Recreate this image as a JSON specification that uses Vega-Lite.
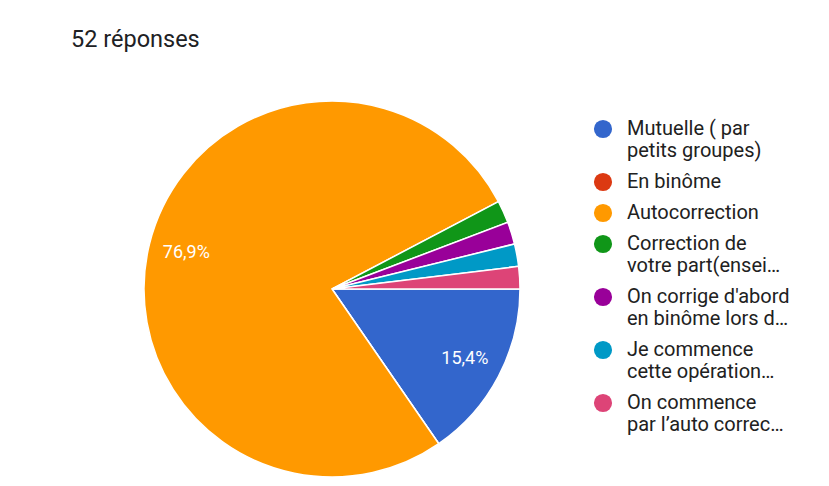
{
  "$schema": "https://vega.github.io/schema/vega-lite/v6.json",
  "width": 664,
  "height": 376,
  "autosize": {"type": "none"},
  "padding": {"left": 0, "top": 101, "right": 165, "bottom": 9},
  "background": "white",
  "title": {
    "text": "52 réponses",
    "anchor": "start",
    "dx": 71,
    "offset": 47,
    "font": "Roboto",
    "fontSize": 23.5,
    "fontWeight": "normal",
    "color": "#202124"
  },
  "config": {"view": {"stroke": null}},
  "data": {
    "values": [
      {"reponse": "Mutuelle ( par|petits groupes)", "n": 8, "label": "15,4%", "ordre": 1},
      {"reponse": "En binôme", "n": 0, "label": "0%", "ordre": 2},
      {"reponse": "Autocorrection", "n": 40, "label": "76,9%", "ordre": 3},
      {"reponse": "Correction de|votre part(ensei…", "n": 1, "label": "1,9%", "ordre": 4},
      {"reponse": "On corrige d'abord|en binôme lors d…", "n": 1, "label": "1,9%", "ordre": 5},
      {"reponse": "Je commence|cette opération…", "n": 1, "label": "1,9%", "ordre": 6},
      {"reponse": "On commence|par l’auto correc…", "n": 1, "label": "1,9%", "ordre": 7}
    ]
  },
  "encoding": {
    "theta": {"field": "n", "type": "quantitative", "stack": true, "scale": {"range": [1.5707963, 7.8539816]}},
    "order": {"field": "ordre", "type": "quantitative"}
  },
  "layer": [
    {
      "mark": {"type": "arc", "stroke": "white", "strokeWidth": 1.5},
      "encoding": {
        "color": {
          "field": "reponse",
          "type": "nominal",
          "sort": null,
          "scale": {
            "domain": ["Mutuelle ( par|petits groupes)", "En binôme", "Autocorrection", "Correction de|votre part(ensei…", "On corrige d'abord|en binôme lors d…", "Je commence|cette opération…", "On commence|par l’auto correc…"],
            "range": ["#3366cc", "#dc3912", "#ff9900", "#109618", "#990099", "#0099c6", "#dd4477"]
          },
          "legend": {
            "title": null,
            "orient": "none",
            "legendX": 593,
            "legendY": 18,
            "padding": 0,
            "symbolType": "circle",
            "symbolSize": 330,
            "symbolStrokeWidth": 0,
            "labelFont": "Roboto",
            "labelFontSize": 20,
            "labelColor": "#212121",
            "labelOffset": 14,
            "labelLimit": 300,
            "rowPadding": 11,
            "labelExpr": "split(datum.label, '|')"
          }
        }
      }
    },
    {
      "mark": {"type": "text", "radius": 150, "font": "Roboto", "fontSize": 18, "color": "white"},
      "encoding": {
        "text": {"condition": {"test": "datum.n >= 5", "field": "label"}, "value": ""}
      }
    }
  ]
}
